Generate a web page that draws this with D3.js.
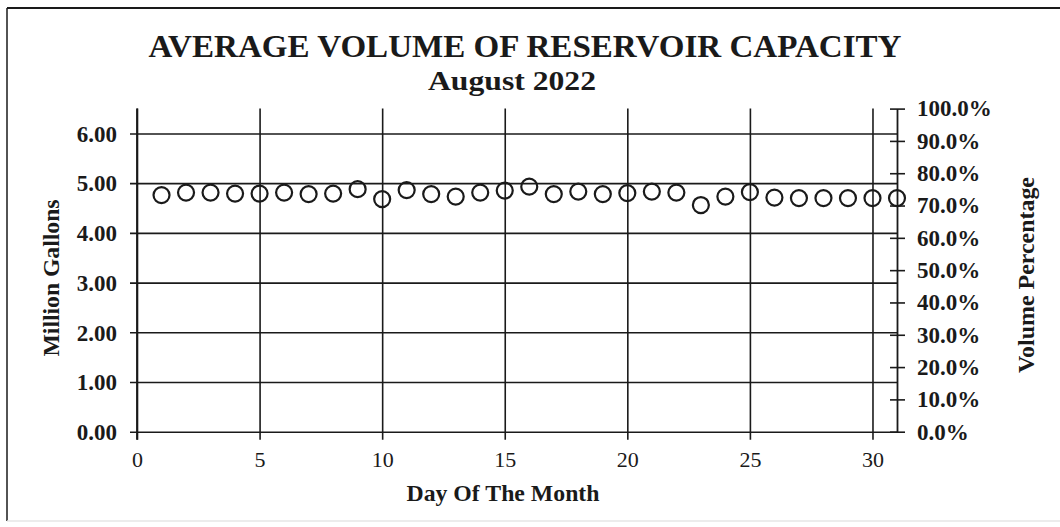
<!DOCTYPE html>
<html><head><meta charset="utf-8">
<script src="https://cdn.jsdelivr.net/npm/d3@7"></script>
<style>
html,body{margin:0;padding:0;background:#fff;}
svg text{font-family:"Liberation Serif","Times New Roman",serif;fill:#1a1a1a;}
</style></head>
<body><svg id="c" width="1060" height="527"></svg>
<script>
const days = [1,2,3,4,5,6,7,8,9,10,11,12,13,14,15,16,17,18,19,20,21,22,23,24,25,26,27,28,29,30,31];
const volumes = [4.76,4.81,4.81,4.79,4.79,4.81,4.78,4.79,4.88,4.68,4.86,4.78,4.73,4.81,4.85,4.93,4.78,4.83,4.78,4.80,4.83,4.81,4.56,4.73,4.82,4.71,4.70,4.70,4.70,4.70,4.70];
const xTicks = [0,5,10,15,20,25,30];
const yTicks = [0,1,2,3,4,5,6];
const pctTicks = [0,0.1,0.2,0.3,0.4,0.5,0.6,0.7,0.8,0.9,1.0];
const capacity = 6.5;
const title = "AVERAGE VOLUME OF RESERVOIR CAPACITY";
const subtitle = "August 2022";
const xTitle = "Day Of The Month";
const yTitle = "Million Gallons";
const y2Title = "Volume Percentage";

const svg = d3.select("#c");
const L = 137, R = 897, T = 108.6, B = 431.7;
const x = d3.scaleLinear().domain([0,31]).range([L,R]);
const y = d3.scaleLinear().domain([0,capacity]).range([B,T]);
const y2 = d3.scaleLinear().domain([0,1]).range([B,T]);
const ink = "#1a1a1a";

// frame
svg.append("line").attr("x1",7).attr("x2",1060).attr("y1",8).attr("y2",8).attr("stroke",ink).attr("stroke-width",2);
svg.append("line").attr("x1",7).attr("x2",7).attr("y1",8).attr("y2",521).attr("stroke",ink).attr("stroke-width",1.5);
svg.append("line").attr("x1",7).attr("x2",1060).attr("y1",521).attr("y2",521).attr("stroke","#e6e6e6").attr("stroke-width",1.5);

// titles
svg.append("text").attr("x",525).attr("y",57).attr("text-anchor","middle")
  .attr("font-size",31).attr("font-weight","bold").attr("textLength",753).attr("lengthAdjust","spacingAndGlyphs").text(title);
svg.append("text").attr("x",512).attr("y",90).attr("text-anchor","middle")
  .attr("font-size",28).attr("font-weight","bold").attr("textLength",168).attr("lengthAdjust","spacingAndGlyphs").text(subtitle);

// horizontal gridlines (left axis)
const yAx = d3.axisLeft(y).tickValues(yTicks).tickSize(-(R-L)).tickSizeOuter(0).tickFormat(d3.format(".2f")).tickPadding(20);
const gy = svg.append("g").attr("transform",`translate(${L},0)`).call(yAx);
gy.select(".domain").remove();
gy.selectAll(".tick line").attr("stroke",ink).attr("stroke-width",1.6).attr("x1",-7);
gy.selectAll(".tick text").attr("font-size",23).attr("font-weight","bold").attr("fill",ink)
  .attr("font-family","Liberation Serif").attr("dy","0.34em");

// vertical gridlines (bottom axis)
const xAx = d3.axisBottom(x).tickValues(xTicks).tickSize(-(B-T)).tickSizeOuter(0).tickFormat(d3.format("d"));
const gx = svg.append("g").attr("transform",`translate(0,${B})`).call(xAx);
gx.select(".domain").remove();
gx.selectAll(".tick line").attr("stroke",ink).attr("stroke-width",1.6).attr("y1",8);
gx.selectAll(".tick text").attr("font-size",22).attr("fill",ink).attr("font-family","Liberation Serif")
  .attr("y",35).attr("dy",0);

// left axis line
svg.append("line").attr("x1",L).attr("x2",L).attr("y1",T).attr("y2",B+8).attr("stroke",ink).attr("stroke-width",1.8);

// right axis
const y2Ax = d3.axisRight(y2).tickValues(pctTicks).tickSize(8).tickSizeOuter(0).tickFormat(d3.format(".1%")).tickPadding(12);
const gr = svg.append("g").attr("transform",`translate(${R},0)`).call(y2Ax);
gr.select(".domain").attr("stroke",ink).attr("stroke-width",1.8);
gr.selectAll(".tick line").attr("stroke",ink).attr("stroke-width",1.6).attr("x1",-7);
gr.selectAll(".tick text").attr("font-size",23).attr("font-weight","bold").attr("fill",ink).attr("font-family","Liberation Serif");

// axis titles
svg.append("text").attr("x",503).attr("y",501).attr("text-anchor","middle")
  .attr("font-size",23).attr("font-weight","bold").attr("textLength",193).attr("lengthAdjust","spacingAndGlyphs").text(xTitle);
svg.append("text").attr("transform","translate(59,278) rotate(-90)").attr("text-anchor","middle")
  .attr("font-size",23).attr("font-weight","bold").attr("textLength",157).attr("lengthAdjust","spacingAndGlyphs").text(yTitle);
svg.append("text").attr("transform","translate(1034,275) rotate(-90)").attr("text-anchor","middle")
  .attr("font-size",23).attr("font-weight","bold").attr("textLength",196).attr("lengthAdjust","spacingAndGlyphs").text(y2Title);

// points
svg.append("g").selectAll("circle").data(days).join("circle")
  .attr("cx",(d)=>x(d)).attr("cy",(d,i)=>y(volumes[i])).attr("r",8)
  .attr("fill","none").attr("stroke",ink).attr("stroke-width",2.2);
</script></body></html>
